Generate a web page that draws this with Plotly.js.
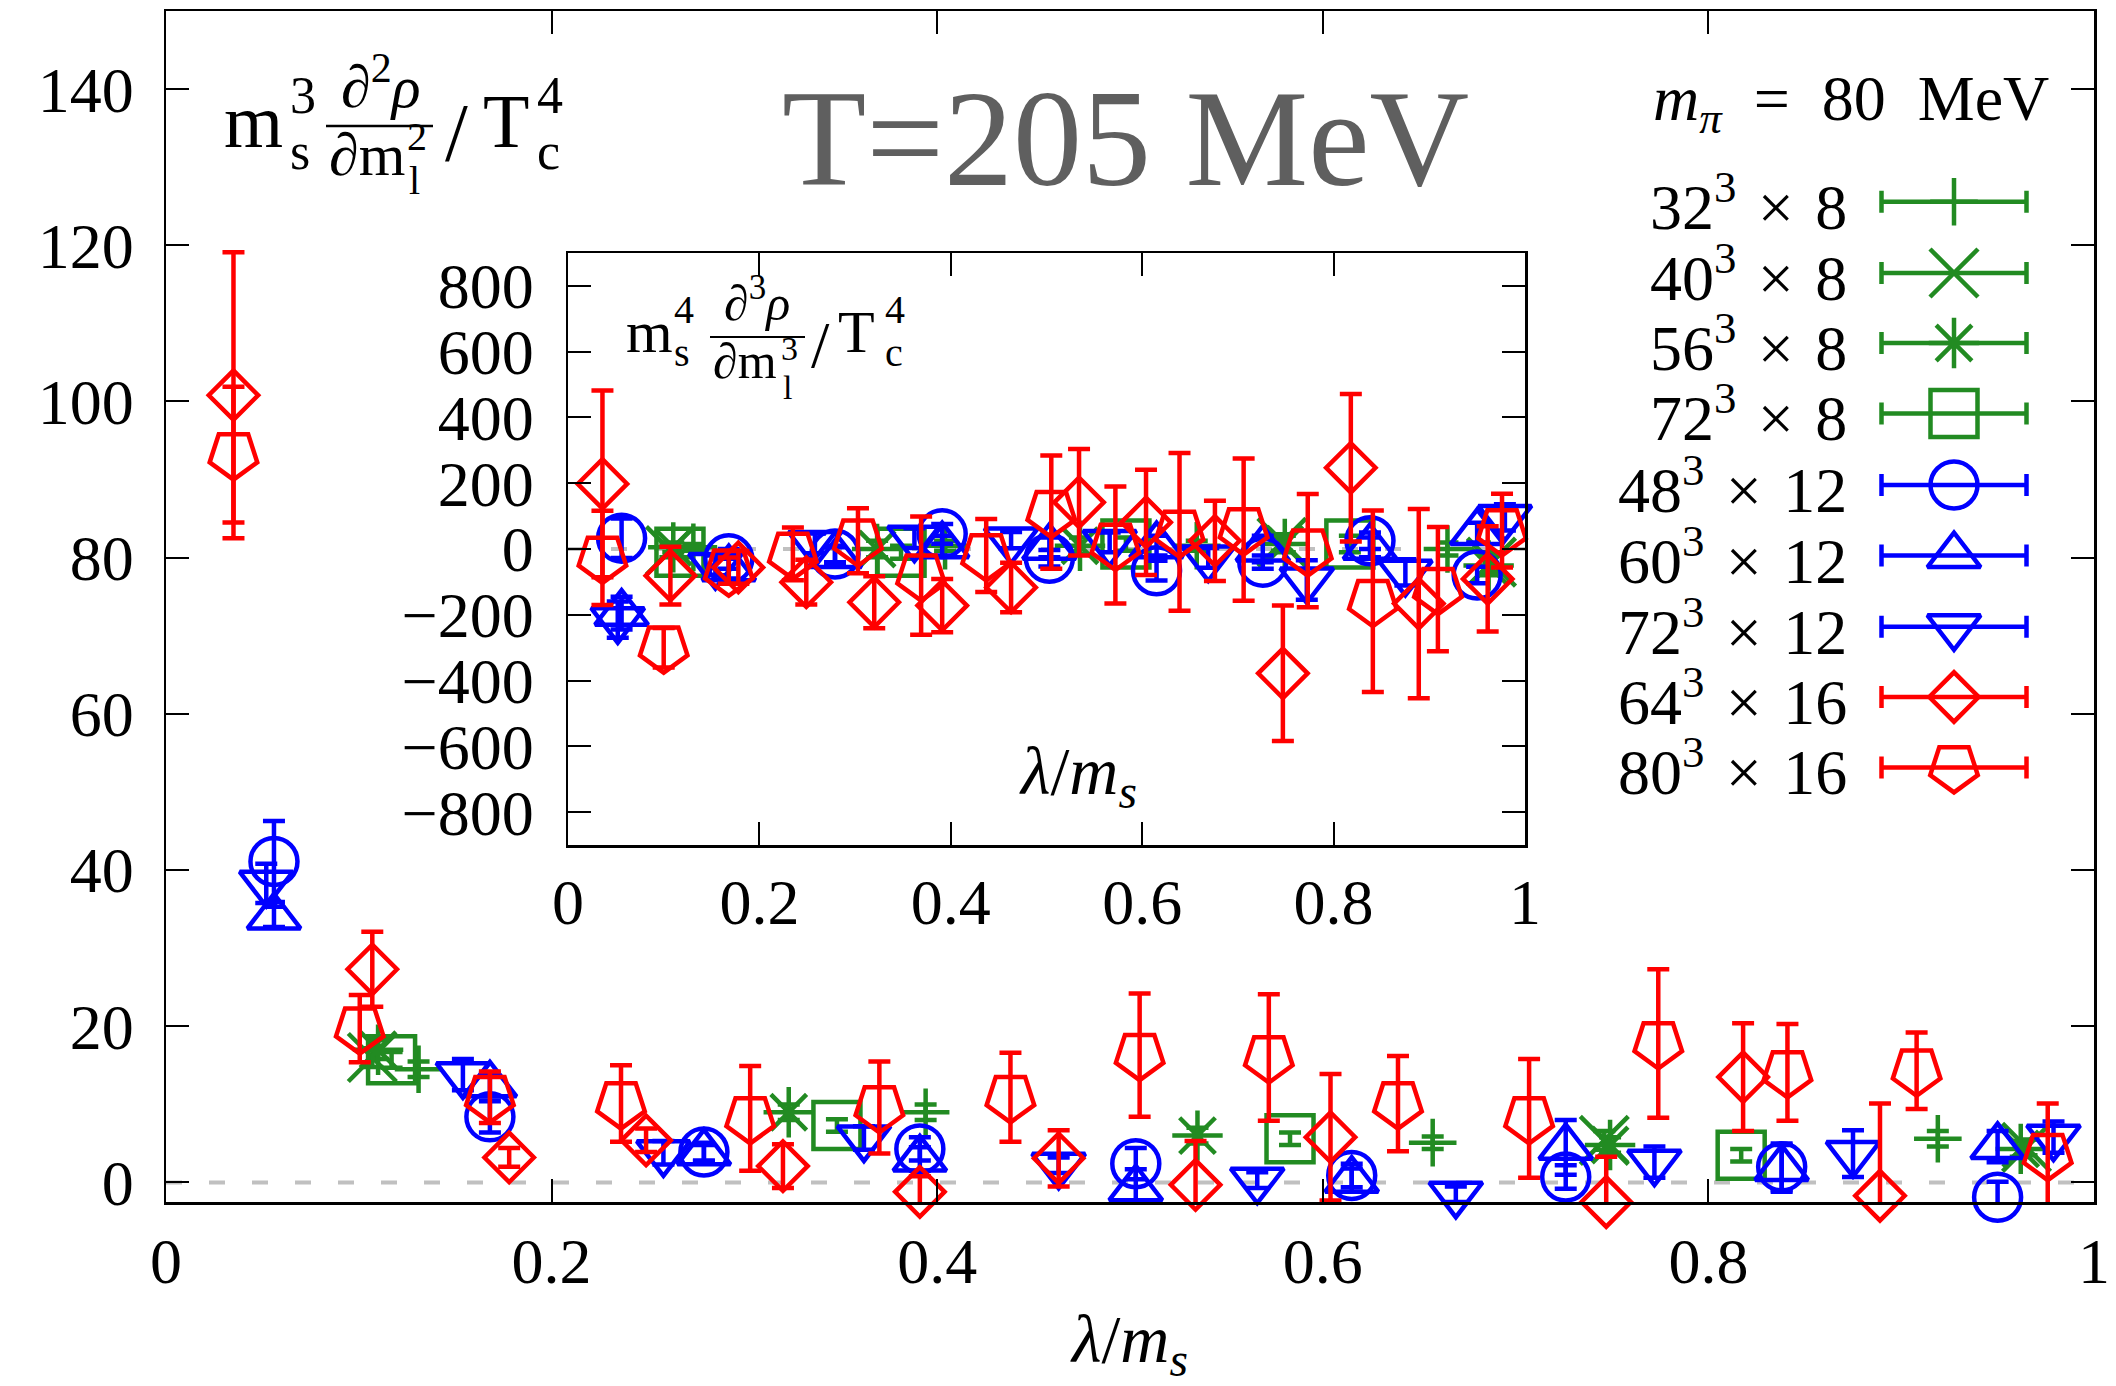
<!DOCTYPE html>
<html><head><meta charset="utf-8">
<script src="https://cdn.plot.ly/plotly-3.0.1.min.js"></script>
<style>html,body{margin:0;padding:0;background:#fff}</style>
</head><body><div id="chart" style="width:2116px;height:1386px"></div>
<script>
// ---------------- DATA ----------------
const SP = ' \u200A';
const seriesLabels = ['32<sup>3</sup>' + SP + '×' + SP + '8', '40<sup>3</sup>' + SP + '×' + SP + '8',
  '56<sup>3</sup>' + SP + '×' + SP + '8', '72<sup>3</sup>' + SP + '×' + SP + '8',
  '48<sup>3</sup>' + SP + '×' + SP + '12', '60<sup>3</sup>' + SP + '×' + SP + '12',
  '72<sup>3</sup>' + SP + '×' + SP + '12', '64<sup>3</sup>' + SP + '×' + SP + '16',
  '80<sup>3</sup>' + SP + '×' + SP + '16'];

// main plot: m_s^3 d2rho/dm_l^2 / T_c^4 vs lambda/m_s
const lam_32x8 = [0.131, 0.394, 0.657, 0.919];
const val_32x8 = [14.5, 9.0, 5.1, 5.6];
const err_32x8 = [1.0, 1.0, 0.8, 1.0];

const lam_40x8 = [0.107, 0.746, 0.965];
const val_40x8 = [16.0, 5.4, 4.5];
const err_40x8 = [1.2, 1.2, 1.0];

const lam_56x8 = [0.110, 0.323, 0.535, 0.749, 0.962];
const val_56x8 = [17.0, 9.0, 6.0, 4.8, 4.3];
const err_56x8 = [1.2, 1.0, 1.0, 1.0, 1.0];

const lam_72x8 = [0.117, 0.348, 0.583, 0.817];
const val_72x8 = [15.7, 7.3, 5.6, 3.5];
const err_72x8 = [1.0, 0.8, 0.8, 0.8];

const lam_48x12 = [0.056, 0.168, 0.279, 0.391, 0.503, 0.615, 0.726, 0.838, 0.950];
const val_48x12 = [41.1, 8.4, 3.9, 4.3, 2.4, 0.9, 0.7, 2.0, -1.9];
const err_48x12 = [5.2, 2.0, 1.2, 1.5, 2.0, 1.5, 1.5, 3.0, 2.0];

const lam_60x12 = [0.056, 0.168, 0.279, 0.391, 0.503, 0.615, 0.726, 0.838, 0.950];
const val_60x12 = [34.0, 12.5, 3.8, 3.0, -0.8, 0.3, 4.5, 1.8, 4.6];
const err_60x12 = [1.3, 1.5, 1.0, 1.5, 2.5, 1.5, 3.5, 3.0, 2.0];

const lam_72x12 = [0.052, 0.154, 0.258, 0.362, 0.463, 0.566, 0.669, 0.772, 0.875, 0.979];
const val_72x12 = [38.3, 13.8, 3.8, 5.7, 2.2, 0.3, -1.5, 2.6, 3.7, 5.8];
const err_72x12 = [2.5, 2.0, 1.5, 1.5, 1.0, 1.0, 1.0, 2.0, 3.0, 2.0];

const lam_64x16 = [0.035, 0.107, 0.178, 0.249, 0.320, 0.391, 0.463, 0.534, 0.604, 0.747, 0.818, 0.889];
const val_64x16 = [100.8, 27.3, 3.2, 5.4, 2.1, -1.2, 3.1, -0.3, 5.8, -2.5, 13.5, -1.7];
const err_64x16 = [18.3, 4.8, 1.2, 1.5, 2.8, 2.0, 3.6, 5.6, 8.1, 5.8, 6.9, 11.8];

const lam_80x16 = [0.035, 0.1005, 0.168, 0.236, 0.303, 0.370, 0.438, 0.505, 0.572, 0.639, 0.707, 0.774, 0.841, 0.908, 0.976];
const val_80x16 = [93.2, 19.7, 10.9, 10.1, 8.2, 9.6, 10.9, 16.3, 16.0, 10.1, 8.2, 17.8, 14.1, 14.3, 3.5];
const err_80x16 = [8.7, 4.3, 3.3, 4.9, 6.7, 5.9, 5.7, 7.9, 8.1, 6.1, 7.6, 9.5, 6.2, 4.9, 6.6];

// inset: m_s^4 d3rho/dm_l^3 / T_c^4 vs lambda/m_s
const ins_lam_32x8 = [0.131, 0.394, 0.657, 0.919];
const ins_val_32x8 = [5, 10, 10, 0];
const ins_err_32x8 = [10, 15, 15, 20];

const ins_lam_40x8 = [0.107, 0.746, 0.965];
const ins_val_40x8 = [-5, 20, -40];
const ins_err_40x8 = [20, 25, 30];

const ins_lam_56x8 = [0.110, 0.323, 0.535, 0.749, 0.962];
const ins_val_56x8 = [5, 0, 10, 15, -50];
const ins_err_56x8 = [15, 25, 25, 25, 30];

const ins_lam_72x8 = [0.117, 0.348, 0.583, 0.817];
const ins_val_72x8 = [-10, -10, 15, 15];
const ins_err_72x8 = [15, 20, 20, 25];

const ins_lam_48x12 = [0.056, 0.168, 0.279, 0.391, 0.503, 0.615, 0.726, 0.838, 0.950];
const ins_val_48x12 = [33, -30, -15, 46, -28, -66, -40, 25, -79];
const ins_err_48x12 = [60, 30, 25, 30, 25, 30, 20, 25, 25];

const ins_lam_60x12 = [0.056, 0.168, 0.279, 0.391, 0.503, 0.615, 0.726, 0.838, 0.950];
const ins_val_60x12 = [-195, -60, -20, 10, 5, 10, 0, 5, 50];
const ins_err_60x12 = [50, 30, 25, 30, 30, 30, 40, 30, 30];

const ins_lam_72x12 = [0.052, 0.154, 0.258, 0.362, 0.463, 0.566, 0.669, 0.772, 0.875, 0.979];
const ins_val_72x12 = [-215, -50, 17, 33, 27, 20, -27, -94, -71, 96];
const ins_err_72x12 = [55, 30, 30, 30, 25, 30, 30, 60, 40, 40];

const ins_lam_64x16 = [0.036, 0.107, 0.178, 0.249, 0.320, 0.391, 0.463, 0.534, 0.604, 0.676, 0.747, 0.818, 0.889, 0.961];
const ins_val_64x16 = [198, -81, -56, -101, -162, -172, -117, 142, 81, 25, -378, 247, -166, -91];
const ins_err_64x16 = [284, 88, 50, 68, 79, 81, 75, 162, 160, 122, 206, 224, 288, 160];

const ins_lam_80x16 = [0.036, 0.100, 0.168, 0.235, 0.303, 0.369, 0.437, 0.505, 0.572, 0.639, 0.706, 0.773, 0.841, 0.909, 0.976];
const ins_val_80x16 = [-27, -300, -66, -15, 25, -81, -20, 112, 12, 52, 59, -5, -159, -122, 56];
const ins_err_80x16 = [143, 60, 40, 80, 99, 180, 111, 172, 178, 240, 216, 172, 276, 189, 112];

// ticks
const mainXTicks = [0, 0.2, 0.4, 0.6, 0.8, 1];
const mainXTickText = ['0', '0.2', '0.4', '0.6', '0.8', '1'];
const mainYTicks = [0, 20, 40, 60, 80, 100, 120, 140];
const mainYTickText = ['0', '20', '40', '60', '80', '100', '120', '140'];
const insYTicks = [-800, -600, -400, -200, 0, 200, 400, 600, 800];
const insYTickText = ['−800', '−600', '−400', '−200', '0', '200', '400', '600', '800'];

// ---------------- STYLE ----------------
const GREEN = '#228b22', BLUE = '#0000ff', RED = '#ff0000';
const FONT = '"Liberation Serif", serif';
const LW = 4.5;
const styles = [
  {c: GREEN, s: 'cross-thin', z: 34},
  {c: GREEN, s: 'x-thin', z: 48},
  {c: GREEN, s: 'asterisk', z: 42},
  {c: GREEN, s: 'square-open', z: 47},
  {c: BLUE, s: 'circle-open', z: 47},
  {c: BLUE, s: 'triangle-up-open', z: 46},
  {c: BLUE, s: 'triangle-down-open', z: 46},
  {c: RED, s: 'diamond-open', z: 38},
  {c: RED, s: 'pentagon-open', z: 50, a: 180}
];
const mainSets = [
  [lam_32x8, val_32x8, err_32x8], [lam_40x8, val_40x8, err_40x8], [lam_56x8, val_56x8, err_56x8],
  [lam_72x8, val_72x8, err_72x8], [lam_48x12, val_48x12, err_48x12], [lam_60x12, val_60x12, err_60x12],
  [lam_72x12, val_72x12, err_72x12], [lam_64x16, val_64x16, err_64x16], [lam_80x16, val_80x16, err_80x16]
];
const insSets = [
  [ins_lam_32x8, ins_val_32x8, ins_err_32x8], [ins_lam_40x8, ins_val_40x8, ins_err_40x8], [ins_lam_56x8, ins_val_56x8, ins_err_56x8],
  [ins_lam_72x8, ins_val_72x8, ins_err_72x8], [ins_lam_48x12, ins_val_48x12, ins_err_48x12], [ins_lam_60x12, ins_val_60x12, ins_err_60x12],
  [ins_lam_72x12, ins_val_72x12, ins_err_72x12], [ins_lam_64x16, ins_val_64x16, ins_err_64x16], [ins_lam_80x16, ins_val_80x16, ins_err_80x16]
];

// layout geometry (pixels)
const W = 2116, H = 1386, ML = 166, MR = 22, MT = 11, MB = 184;
const PW = W - ML - MR, PH = H - MT - MB;
const px = X => (X - ML) / PW;
const py = Y => (H - MB - Y) / PH;
const legendRowsY = [201.7, 273, 343, 413.5, 485, 555.6, 626.8, 697, 767.4];
const legendKeyX = 1954, legendHalf = 72.5, legendTextRight = 1848;

function mk(st) {
  const m = {symbol: st.s, size: st.z, color: st.c, line: {color: st.c, width: LW}};
  if (st.a) m.angle = st.a;
  return m;
}

const traces = [];
mainSets.forEach((d, i) => {
  const st = styles[i];
  traces.push({type: 'scatter', mode: 'markers', x: d[0], y: d[1], xaxis: 'x', yaxis: 'y',
    error_y: {type: 'data', array: d[2], visible: true, color: st.c, thickness: LW, width: 11},
    marker: mk(st), cliponaxis: false, showlegend: false, hoverinfo: 'skip', name: seriesLabels[i]});
});
insSets.forEach((d, i) => {
  const st = styles[i];
  traces.push({type: 'scatter', mode: 'markers', x: d[0], y: d[1], xaxis: 'x2', yaxis: 'y2',
    error_y: {type: 'data', array: d[2], visible: true, color: st.c, thickness: LW, width: 11},
    marker: mk(st), cliponaxis: false, showlegend: false, hoverinfo: 'skip', name: seriesLabels[i]});
});
// legend keys (pixel-coordinate overlay axes)
styles.forEach((st, i) => {
  traces.push({type: 'scatter', mode: 'markers', x: [legendKeyX], y: [legendRowsY[i]], xaxis: 'x3', yaxis: 'y3',
    error_x: {type: 'constant', value: legendHalf, visible: true, color: st.c, thickness: LW, width: 11},
    marker: mk(st), cliponaxis: false, showlegend: false, hoverinfo: 'skip'});
});

function axisBase(extra) {
  return Object.assign({showline: true, linecolor: 'black', linewidth: 2.5, mirror: 'ticks',
    ticks: 'inside', ticklen: 23, tickwidth: 2, tickcolor: 'black', showgrid: false, zeroline: false,
    tickfont: {family: FONT, size: 64, color: 'black'}, tickmode: 'array'}, extra);
}

// text pieces: baseline-positioned
function T(text, X, Yb, size, xanchor, color) {
  return {xref: 'paper', yref: 'paper', x: px(X), y: py(Yb - 0.3375 * size), xanchor: xanchor || 'left',
    yanchor: 'middle', text: text, showarrow: false, borderpad: 0,
    font: {family: FONT, size: size, color: color || 'black'}};
}
function Tb(text, X, Ybottom, size) {
  return {xref: 'paper', yref: 'paper', x: px(X), y: py(Ybottom), xanchor: 'center', yanchor: 'bottom',
    text: text, showarrow: false, borderpad: 0, font: {family: FONT, size: size, color: 'black'}};
}

const NB = '\u00a0';
const annotations = [
  // title
  T('T=205 MeV', 1125, 185, 138, 'center', '#5f5f5f'),
  // main y label
  T('m', 223, 147, 76), T('3', 289, 113, 52), T('s', 289, 169, 52),
  Tb('∂<sup>2</sup><i>ρ</i>', 380, 121, 60),
  T('∂m', 328, 175, 60), T('2', 406, 150, 40), T('l', 408, 194, 40),
  T('/', 444, 160, 82), T('T', 482, 147, 76), T('4', 536, 113, 52), T('c', 536, 169, 52),
  // inset label
  T('m', 625, 352, 60), T('4', 673, 323, 40), T('s', 673, 366, 40),
  Tb('∂<sup>3</sup><i>ρ</i>', 757, 332, 50),
  T('∂m', 712, 378, 50), T('3', 780, 360, 34), T('l', 782, 399, 34),
  T('/', 810, 367, 66), T('T', 837, 352, 60), T('4', 884, 323, 40), T('c', 884, 366, 40),
  // inset x label
  T('<i>λ</i>/<i>m<sub>s</sub></i>', 1078, 798, 68, 'center'),
  // legend header
  T('<i>m<sub>π</sub></i>' + NB + NB + '=' + NB + NB + '80' + NB + NB + 'MeV', 2050, 125, 64, 'right')
];
seriesLabels.forEach((lab, i) => annotations.push(T(lab, legendTextRight, legendRowsY[i] + 22, 64, 'right')));

const shapes = [
  {type: 'line', xref: 'x domain', yref: 'y', x0: 0, x1: 1, y0: 0, y1: 0, layer: 'below',
    line: {color: '#c0c0c0', width: 4, dash: '16px,27px'}},
  {type: 'line', xref: 'x2 domain', yref: 'y2', x0: 0, x1: 1, y0: 0, y1: 0, layer: 'below',
    line: {color: '#c0c0c0', width: 4, dash: '16px,27px'}},
  {type: 'line', xref: 'paper', yref: 'paper', x0: px(326), x1: px(433), y0: py(126), y1: py(126), line: {color: 'black', width: 2.5}},
  {type: 'line', xref: 'paper', yref: 'paper', x0: px(710), x1: px(805), y0: py(337), y1: py(337), line: {color: 'black', width: 2.2}}
];

const layout = {
  width: W, height: H, margin: {l: ML, r: MR, t: MT, b: MB, pad: 0},
  paper_bgcolor: 'white', plot_bgcolor: 'rgba(0,0,0,0)', showlegend: false, hovermode: false,
  font: {family: FONT, size: 64, color: 'black'},
  xaxis: axisBase({domain: [0, 1], range: [0, 1], tickvals: mainXTicks, ticktext: mainXTickText, anchor: 'y',
    ticklabelstandoff: 2,
    title: {text: '<i>λ</i>/<i>m<sub>s</sub></i>', font: {family: FONT, size: 68, color: 'black'}, standoff: 40}}),
  yaxis: axisBase({domain: [0, 1], range: [-2.5, 150], tickvals: mainYTicks, ticktext: mainYTickText, anchor: 'x',
    ticklabelstandoff: 17}),
  xaxis2: axisBase({domain: [px(568), px(1525)], range: [0, 1], tickvals: mainXTicks, ticktext: mainXTickText, anchor: 'y2',
    ticklabelstandoff: 0}),
  yaxis2: axisBase({domain: [py(845), py(253)], range: [-900, 900], tickvals: insYTicks, ticktext: insYTickText, anchor: 'x2',
    ticklabelstandoff: 19}),
  xaxis3: {overlaying: 'x', anchor: 'y3', range: [ML, W - MR], visible: false, showgrid: false, zeroline: false},
  yaxis3: {overlaying: 'y', anchor: 'x3', range: [H - MB, MT], visible: false, showgrid: false, zeroline: false},
  annotations: annotations,
  shapes: shapes
};

Plotly.newPlot('chart', traces, layout, {staticPlot: true, displayModeBar: false});
</script></body></html>
